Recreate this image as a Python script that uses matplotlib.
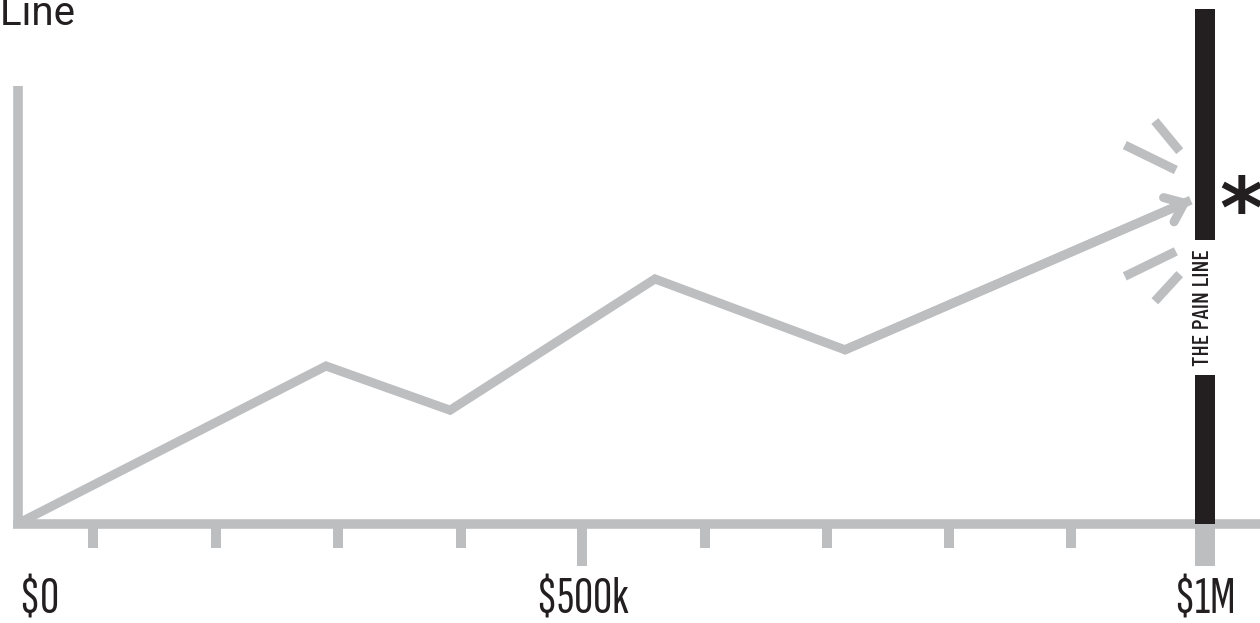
import matplotlib
matplotlib.use('Agg')
import matplotlib.pyplot as plt

# valori (x in migliaia di $, y in unità arbitrarie)
line_x = [0, 259.5, 364, 536.6, 696.7, 988]
line_y = [0, 36.0, 25.9, 55.9, 39.7, 73.9]

minor_ticks = [63.2, 167.0, 269.6, 373.2, 578.6, 681.5, 784.3, 887.1]
major_ticks = [0, 475.5, 1000]
major_labels = ['$0', '$500k', '$1M']

pain_x = 1000
pain_segments = [(0, 33.9), (64.8, 117.6)]
pain_label = 'THE PAIN LINE'
title = 'The Pain Line'

GRAY = '#bcbec0'
BLACK = '#231f20'
NARROW = 'Barlow Condensed'
LABELS = 'Sofia Sans Extra Condensed'

fig = plt.figure(figsize=(12.6, 6.23), dpi=100)
ax = fig.add_axes([0, 0, 1, 1])
ax.set_xlim(-15.16, 1046.3)
ax.set_ylim(-22.74, 119.66)

# assi grigi spessi
for s in ['top', 'right']:
    ax.spines[s].set_visible(False)
ax.spines['left'].set_position(('data', 0))
ax.spines['bottom'].set_position(('data', 0))
ax.spines['left'].set_bounds(-1.05, 100)
ax.spines['bottom'].set_bounds(-4.2, 1046.3)
for s in ['left', 'bottom']:
    ax.spines[s].set_linewidth(6.9)
    ax.spines[s].set_color(GRAY)
    ax.spines[s].set_capstyle('butt')

ax.set_yticks([])
ax.set_xticks(major_ticks)
ax.set_xticklabels(major_labels, fontsize=38, color=BLACK, family=[LABELS, NARROW])
ax.set_xticks(minor_ticks, minor=True)
ax.tick_params(axis='x', which='major', length=30, width=7.2, color=GRAY, pad=9)
ax.tick_params(axis='x', which='minor', length=17, width=7.2, color=GRAY)
ticks = ax.xaxis.get_major_ticks()
ticks[0].tick1line.set_visible(False)
ticks[0].label1.set_horizontalalignment('left')
ticks[2].tick1line.set_markeredgewidth(14.4)

# linea grigia con freccia
ax.plot(line_x, line_y, color=GRAY, lw=6.5, solid_joinstyle='miter',
        solid_capstyle='butt', zorder=3)
ax.annotate('', xy=(line_x[-1], line_y[-1]), xytext=(line_x[-2], line_y[-2]),
            arrowprops=dict(arrowstyle='->,head_length=1.2,head_width=0.95',
                            color=GRAY, lw=6.5, shrinkA=0, shrinkB=0), zorder=3)

# trattini intorno alla punta
tx, ty = line_x[-1], line_y[-1]
burst = [((-55.6, 12.6), (-12.6, 6.9)),
         ((-30.3, 18.1), (-9.3, 11.2)),
         ((-55.6, -17.4), (-12.6, -11.7)),
         ((-30.3, -23.1), (-9.3, -16.9))]
for (x0, y0), (x1, y1) in burst:
    ax.plot([tx + x0, tx + x1], [ty + y0, ty + y1], color=GRAY, lw=6.5,
            solid_capstyle='butt', zorder=3)

# la linea del dolore
for y0, y1 in pain_segments:
    ax.plot([pain_x, pain_x], [y0, y1], color=BLACK, lw=14.4,
            solid_capstyle='butt', zorder=4)
ax.text(pain_x - 1.5, (pain_segments[0][1] + pain_segments[1][0]) / 2, pain_label,
        rotation=90, ha='center', va='center', fontsize=17, fontweight='medium',
        color=BLACK, family=NARROW)
ax.text(1030, 70.8, '*', fontsize=60, fontweight='bold', color=BLACK,
        ha='center', va='center')

ax.text(48, 113.9, title, fontsize=29, color=BLACK, family='Roboto',
        ha='right', va='baseline')

fig.savefig('out.png', dpi=100)
